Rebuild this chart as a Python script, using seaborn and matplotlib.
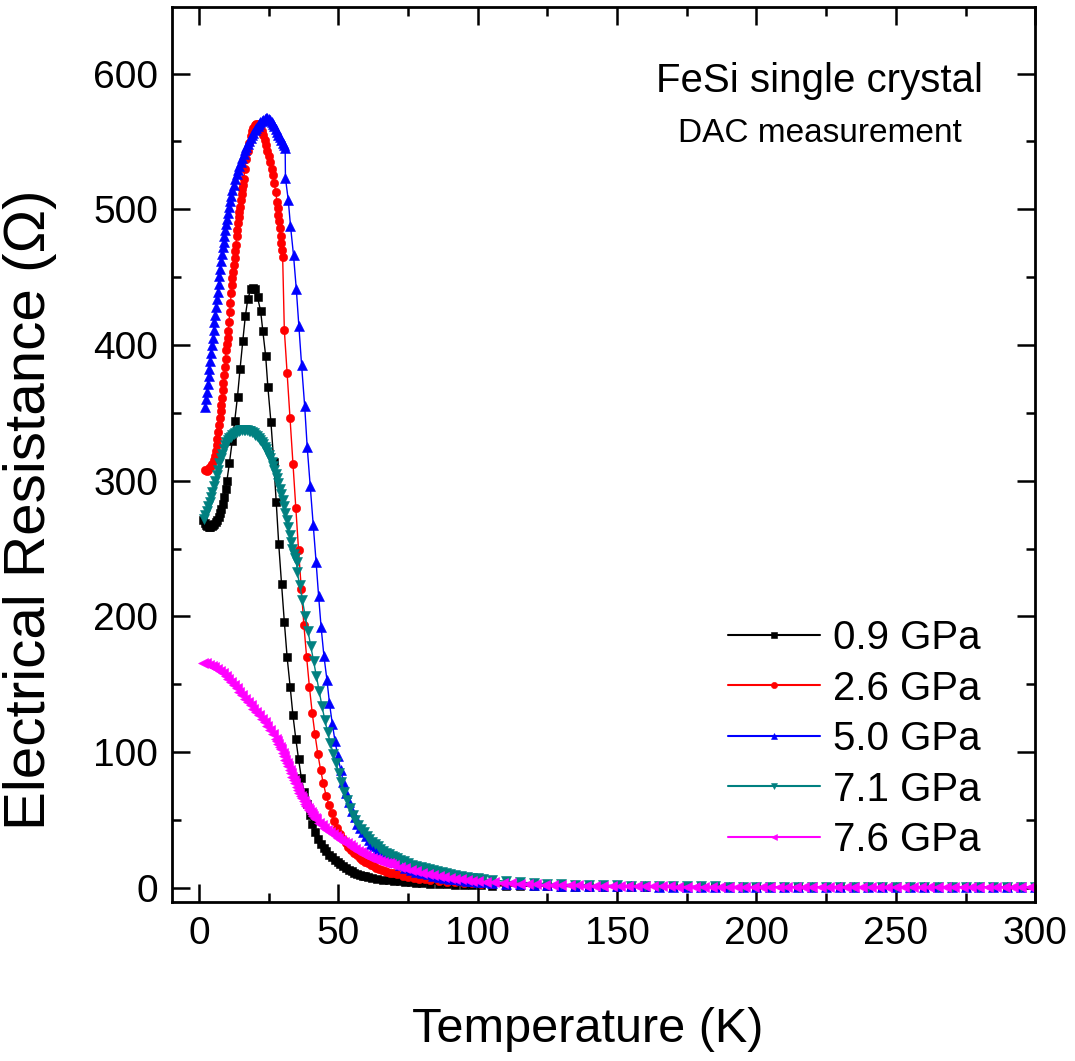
import matplotlib
matplotlib.use("Agg")
import matplotlib.pyplot as plt
import pandas as pd
import seaborn as sns
from matplotlib.ticker import MultipleLocator

# ---------------------------------------------------------------
# R(T) of an FeSi single crystal in a diamond anvil cell.
# Each series: list of (temperature in K, resistance in Ohm).
# ---------------------------------------------------------------
P_LABELS = ["0.9 GPa", "2.6 GPa", "5.0 GPa", "7.1 GPa", "7.6 GPa"]

P09_PTS = [
    (1.5, 271), (2.0, 268.5), (2.5, 267), (3.0, 266.5), (3.5, 266), (4.0, 266),
    (4.5, 266.5), (5.0, 267), (5.5, 268), (6.0, 269.5), (6.5, 271), (7.0, 273),
    (7.5, 276), (8.0, 279), (8.5, 283), (9.0, 288), (9.5, 294), (10.0, 300),
    (10.9, 313), (11.9, 329), (12.8, 344), (13.8, 362), (14.7, 382), (15.7, 403),
    (16.6, 421), (17.5, 434), (18.6, 441), (19.3, 442), (20.2, 441), (21.0, 435),
    (22.1, 425), (22.9, 410), (23.9, 392), (24.7, 369), (25.8, 343), (26.8, 314),
    (27.7, 284), (28.6, 253), (29.6, 224), (30.6, 196), (31.6, 170), (32.7, 148),
    (33.7, 127), (34.7, 110), (35.7, 95), (36.7, 81), (37.7, 71), (38.7, 62),
    (39.7, 54), (40.7, 47), (41.7, 41), (42.7, 36), (43.7, 32.5), (44.7, 29.5),
    (45.7, 27), (46.7, 24.5), (47.7, 22.5), (48.7, 20.5), (49.7, 19), (50.7, 17.5),
    (51.7, 16), (52.7, 14.5), (53.7, 13.3), (54.7, 12.2), (55.7, 11.3), (56.7, 10.5),
    (57.7, 9.7), (58.7, 9.0), (59.7, 8.5), (60.7, 8.0), (62, 7.4), (64, 6.7),
    (66, 6.1), (68, 5.6), (70, 5.1), (72, 4.7), (74, 4.3), (76, 4.0), (78, 3.7),
    (80, 3.4), (83, 3.1), (86, 2.8), (89, 2.6), (92, 2.4), (95, 2.2), (98, 2.0),
    (101, 1.8),
]

P26_PTS = [
    (2.2, 308), (2.7, 307.5), (3.2, 308), (3.7, 309), (4.2, 310.5), (4.7, 312),
    (5.2, 315), (5.6, 318), (6.0, 322), (6.3, 326), (6.6, 331), (6.9, 336),
    (7.2, 341), (7.5, 346), (7.75, 351), (8.0, 356), (8.25, 361), (8.5, 367),
    (8.75, 372), (9.0, 378), (9.25, 384), (9.5, 390), (9.75, 396), (10.0, 401),
    (10.25, 405), (10.5, 410), (10.75, 417), (11.0, 424), (11.25, 431), (11.5, 438),
    (11.75, 444), (12.0, 449), (12.25, 454), (12.5, 459), (12.75, 464), (13.0, 469),
    (13.25, 474), (13.5, 480), (13.75, 485), (14.0, 490), (14.25, 494), (14.5, 498),
    (14.75, 502), (15.0, 507), (15.25, 511), (15.5, 515), (15.75, 518), (16.0, 522),
    (16.5, 530), (17.0, 537), (17.5, 543), (18.0, 549), (18.5, 554), (19.0, 558),
    (19.5, 560), (20.0, 562), (20.5, 562.5), (21.0, 562.5), (21.5, 561.5), (22.0, 560),
    (22.5, 558), (23.0, 555), (23.5, 551), (24.0, 547), (24.5, 543), (25.0, 539),
    (25.5, 535), (26.0, 530), (26.5, 525), (27.0, 519), (27.5, 513), (28.0, 505),
    (28.25, 501), (28.5, 496), (28.75, 491), (29.0, 486), (29.25, 480), (29.5, 475),
    (29.75, 470), (30.0, 465),
    (30.6, 411), (31.6, 379), (32.6, 346), (33.7, 312), (34.7, 280), (35.7, 249),
    (36.7, 220), (37.6, 194), (38.6, 170), (39.6, 148), (40.6, 129), (41.6, 113),
    (42.6, 99), (43.6, 87), (44.6, 77), (45.6, 68), (46.6, 61), (47.6, 55),
    (48.6, 49), (49.6, 44), (50.6, 40), (51.6, 36), (52.6, 33), (53.6, 30),
    (54.6, 28), (55.6, 26), (56.6, 24), (57.6, 22), (58.6, 20.5), (59.6, 19),
    (60.6, 18), (61.6, 17), (62.6, 16), (63.6, 15), (64.6, 14), (65.6, 13.2),
    (66.6, 12.5), (67.6, 11.8), (68.6, 11.2), (69.6, 10.6), (71, 9.9), (73, 9.0),
    (75, 8.2), (77, 7.5), (79, 6.9), (81, 6.3), (83, 5.8), (86, 5.2), (89, 4.6),
    (92, 4.1), (95, 3.7), (98, 3.3), (101, 3.0),
]

P50_PTS = [
    (2.2, 354), (2.5, 360), (2.8, 365), (3.1, 371), (3.4, 377), (3.7, 382),
    (4.0, 388), (4.3, 394), (4.6, 400), (4.9, 405), (5.2, 411), (5.5, 417),
    (5.8, 422), (6.1, 428), (6.4, 434), (6.7, 439), (7.0, 445), (7.3, 451),
    (7.6, 456), (7.9, 462), (8.2, 467), (8.5, 472), (8.8, 476), (9.1, 480),
    (9.4, 485), (9.7, 489), (10.0, 493), (10.4, 497), (10.8, 502), (11.2, 506),
    (11.6, 510), (12.0, 514), (12.5, 518), (13.0, 522), (13.5, 526), (14.0, 529),
    (14.5, 532), (15.0, 535), (15.5, 538), (16.0, 541), (16.5, 543.5), (17.0, 546),
    (17.5, 548), (18.0, 550), (18.5, 552.5), (19.0, 554.5), (19.5, 556.5),
    (20.0, 558.5), (20.5, 560), (21.0, 561.5), (21.5, 563), (22.0, 564), (22.5, 565),
    (23.0, 566), (23.5, 566.5), (24.0, 567), (24.5, 567), (25.0, 566.5), (25.5, 565.5),
    (26.0, 564.5), (26.5, 563), (27.0, 561), (27.5, 559), (28.0, 557), (28.5, 555),
    (29.0, 553), (29.5, 551), (30.0, 549), (30.5, 547), (30.9, 545),
    (31.0, 523), (32.0, 507), (32.8, 488), (33.9, 466), (34.9, 441), (35.8, 414),
    (36.8, 385), (37.9, 355), (38.8, 325), (39.9, 296), (41.0, 267), (42.0, 240),
    (42.9, 215), (43.8, 192), (44.8, 171), (45.9, 153), (46.8, 136), (47.8, 121),
    (48.8, 108), (49.8, 97), (50.8, 87), (51.8, 78), (52.8, 70), (53.8, 63),
    (54.8, 57), (55.8, 52), (56.8, 47), (57.8, 44), (58.8, 41), (59.8, 38),
    (60.8, 35), (61.8, 32.5), (62.8, 30.5), (63.8, 28.5), (64.8, 26.5), (65.8, 25),
    (67, 23), (68, 21.5), (69, 20), (70, 19), (72, 17), (74, 15), (76, 13.2),
    (78, 12), (80, 10.9), (82, 9.9), (84, 9.0), (86, 8.2), (88, 7.5), (90, 6.8),
    (92, 6.2), (94, 5.6), (96, 5.1), (98, 4.7), (100, 4.3), (102, 4.0),
]

P71_PTS = [
    (1.8, 272), (2.3, 275), (2.8, 278), (3.3, 281), (3.8, 284), (4.3, 288),
    (4.8, 292), (5.3, 296), (5.8, 300), (6.3, 304), (6.8, 308), (7.3, 313),
    (7.8, 317), (8.3, 320), (8.8, 323), (9.3, 326), (9.8, 328.5), (10.3, 330),
    (10.8, 331.5), (11.3, 332.5), (11.8, 333.5), (12.4, 334.5), (13.0, 335.3),
    (13.6, 336), (14.2, 336.5), (14.8, 337), (15.4, 337), (16.0, 337.3),
    (16.6, 337.3), (17.2, 337), (17.8, 336.7), (18.4, 336.3), (19.0, 335.7),
    (19.6, 335), (20.2, 334), (20.8, 333), (21.4, 331.5), (22.0, 330), (22.5, 328.5),
    (23.0, 327), (23.5, 325), (24.0, 323), (24.5, 321), (25.0, 319), (25.5, 316.5),
    (26.0, 314), (26.5, 311), (27.0, 308), (27.5, 305), (28.0, 302), (28.5, 298),
    (29.0, 294), (29.5, 290), (30.0, 286), (30.5, 281), (31.0, 276), (31.5, 271),
    (32.0, 266), (32.5, 260), (33.0, 255), (33.5, 250), (34.0, 246), (34.5, 243),
    (35.0, 240),
    (35.2, 233), (36.1, 223), (37.1, 212), (38.1, 200), (39.1, 189), (40.1, 178),
    (41.1, 167), (42.1, 156), (43.1, 145), (44.1, 134), (45.1, 124), (46.1, 115),
    (47.1, 107), (48.1, 99), (49.1, 92), (50.1, 85), (51.1, 78), (52.1, 71),
    (53.1, 65), (54.1, 59), (55.1, 54), (56.1, 50), (57.1, 46.5), (58.1, 43.5),
    (59.1, 41), (60.1, 38.5), (61.1, 36), (62.1, 34), (63.1, 32), (64.1, 30.5),
    (65.1, 29), (66.1, 27.5), (67.1, 26), (68.1, 25), (69.1, 23.8), (70.1, 22.7),
    (71.1, 21.7), (72.1, 20.7), (73.5, 19.5), (75, 18.3), (76.5, 17.2), (78, 16.2),
    (79.5, 15.3), (81, 14.4), (82.5, 13.6), (84, 12.8), (85.5, 12.1), (87, 11.4),
    (88.5, 10.8), (90, 10.2), (92, 9.5), (94, 8.8), (96, 8.2), (98, 7.6),
    (100, 7.1), (102, 6.6),
]

P76_PTS = [
    (1.5, 166), (2.5, 165.5), (3.5, 164.5), (4.5, 163.5), (5.5, 162.5), (6.5, 161),
    (7.5, 159.5), (8.5, 158), (9.5, 156), (10.5, 154), (11.5, 152), (12.5, 149.5),
    (13.5, 147), (14.5, 144.5), (15.5, 142), (16.5, 139.5), (17.5, 137), (18.5, 134.5),
    (19.5, 132), (20.5, 129.5), (21.5, 127), (22.5, 124.5), (23.5, 122), (24.5, 119.5),
    (25.5, 116.5), (26.5, 113.5), (27.5, 110), (28.0, 108), (28.5, 106), (29.0, 104),
    (29.5, 102), (30.0, 99.5), (30.5, 97), (31.0, 94.5), (31.5, 92), (32.0, 89.5),
    (32.5, 87), (33.0, 84.5), (33.5, 82), (34.0, 79.5), (34.5, 77), (35.0, 74.5),
    (35.5, 72), (36.0, 70), (36.5, 68), (37.0, 66), (37.5, 64), (38.0, 62),
    (38.5, 60.5), (39.0, 59), (39.5, 57.5), (40.0, 56), (40.5, 54.5), (41.0, 53),
    (41.5, 51.5), (42.0, 50.5), (43, 48), (44, 46), (45, 44), (46, 42.5), (47, 41),
    (48, 39.5), (49, 38), (50, 36.5), (51, 35.2), (52, 34), (53, 32.8), (54, 31.6),
    (55, 30.3), (56, 28.7), (57, 27.5), (58, 26.3), (59, 25.1), (60, 24),
    (61, 23.1), (62, 22.3), (63, 21.5), (64, 20.8), (65, 20), (66, 19.3), (67, 18.6),
    (68, 18), (69, 17.3), (70, 16.7), (72, 15.5), (74, 14.3), (76, 13.2), (78, 12.2),
    (80, 11.2), (82, 10.3), (84, 9.5), (86, 8.8), (88, 8.1), (90, 7.5), (92, 6.9),
    (94, 6.3), (96, 5.8), (98, 5.4), (100, 5.0),
]

# high-temperature tails (measured every 5 K above 105 K)
TAIL_T = [105, 110, 115, 120, 125, 130, 135, 140, 145, 150, 155, 160, 165, 170,
          175, 180, 185, 190, 195, 200, 205, 210, 215, 220, 225, 230, 235, 240,
          245, 250, 255, 260, 265, 270, 275, 280, 285, 290, 295, 300]
TAIL_P09 = [1.6, 1.45, 1.3, 1.2, 1.1, 1.0, 0.95, 0.9, 0.85, 0.8, 0.75, 0.7, 0.68,
            0.65, 0.62, 0.6, 0.57, 0.55, 0.53, 0.5, 0.49, 0.47, 0.46, 0.45, 0.44,
            0.43, 0.42, 0.41, 0.4, 0.39, 0.38, 0.37, 0.36, 0.35, 0.35, 0.34, 0.33,
            0.33, 0.32, 0.32]
TAIL_P26 = [2.7, 2.4, 2.1, 1.9, 1.7, 1.55, 1.4, 1.3, 1.2, 1.1, 1.0, 0.95, 0.9,
            0.85, 0.8, 0.76, 0.72, 0.69, 0.66, 0.63, 0.6, 0.58, 0.56, 0.54, 0.52,
            0.5, 0.49, 0.48, 0.47, 0.46, 0.45, 0.44, 0.43, 0.42, 0.41, 0.4, 0.4,
            0.39, 0.39, 0.38]
TAIL_P50 = [3.6, 3.0, 2.5, 2.1, 1.85, 1.65, 1.5, 1.4, 1.3, 1.2, 1.12, 1.05, 1.0,
            0.95, 0.9, 0.85, 0.8, 0.76, 0.72, 0.69, 0.66, 0.63, 0.6, 0.58, 0.56,
            0.54, 0.52, 0.5, 0.49, 0.48, 0.47, 0.46, 0.45, 0.44, 0.43, 0.42, 0.41,
            0.4, 0.4, 0.39]
TAIL_P71 = [5.8, 4.9, 4.2, 3.6, 3.1, 2.7, 2.4, 2.15, 1.95, 1.8, 1.65, 1.5, 1.4,
            1.3, 1.2, 1.1, 1.05, 1.0, 0.95, 0.9, 0.85, 0.8, 0.77, 0.74, 0.71,
            0.68, 0.65, 0.62, 0.6, 0.58, 0.56, 0.54, 0.52, 0.5, 0.49, 0.48, 0.47,
            0.46, 0.45, 0.45]
# the 7.6 GPa run was logged every 3 K above 100 K
TAIL_T76 = [103, 106, 109, 112, 115, 118, 121, 124, 127, 130, 133, 136, 139, 142,
            145, 148, 151, 154, 157, 160, 163, 166, 169, 172, 175, 178, 181, 184,
            187, 190, 193, 196, 199, 202, 205, 208, 211, 214, 217, 220, 223, 226,
            229, 232, 235, 238, 241, 244, 247, 250, 253, 256, 259, 262, 265, 268,
            271, 274, 277, 280, 283, 286, 289, 292, 295, 298, 300]
TAIL_P76 = [4.6, 4.2, 3.8, 3.5, 3.2, 2.9, 2.6, 2.4, 2.2, 2.0, 1.9, 1.8, 1.7, 1.6,
            1.5, 1.4, 1.35, 1.3, 1.25, 1.2, 1.15, 1.1, 1.05, 1.0, 1.0, 0.95, 0.9,
            0.9, 0.85, 0.85, 0.8, 0.8, 0.75, 0.75, 0.7, 0.7, 0.7, 0.65, 0.65, 0.65,
            0.6, 0.6, 0.6, 0.6, 0.55, 0.55, 0.55, 0.55, 0.5, 0.5, 0.5, 0.5, 0.5,
            0.5, 0.45, 0.45, 0.45, 0.45, 0.45, 0.45, 0.4, 0.4, 0.4, 0.4, 0.4, 0.4,
            0.4]

X_TICKS = [0, 50, 100, 150, 200, 250, 300]
Y_TICKS = [0, 100, 200, 300, 400, 500, 600]

COLORS = ["#000000", "#FF0000", "#0000FF", "#008080", "#FF00FF"]
MARKERS = ["s", "o", "^", "v", "<"]
MSIZES = [5.4, 6.0, 7.4, 7.4, 7.8]


def frame(points, tail_t, tail_r, label):
    t = [p[0] for p in points] + list(tail_t)
    r = [p[1] for p in points] + list(tail_r)
    return pd.DataFrame({"T": t, "R": r, "pressure": label})


frames = [
    frame(P09_PTS, TAIL_T, TAIL_P09, P_LABELS[0]),
    frame(P26_PTS, TAIL_T, TAIL_P26, P_LABELS[1]),
    frame(P50_PTS, TAIL_T, TAIL_P50, P_LABELS[2]),
    frame(P71_PTS, TAIL_T, TAIL_P71, P_LABELS[3]),
    frame(P76_PTS, TAIL_T76, TAIL_P76, P_LABELS[4]),
]

sns.set_theme(style="ticks")
plt.rcParams["font.family"] = ["Liberation Sans", "DejaVu Sans"]
plt.rcParams.update({
    "axes.linewidth": 2.0,
    "text.color": "black",
    "axes.labelcolor": "black",
    "xtick.color": "black",
    "ytick.color": "black",
    "axes.edgecolor": "black",
})

fig = plt.figure(figsize=(10.75, 10.61), dpi=100)
ax = fig.add_axes([0.160, 0.150, 0.803, 0.8434])

for df, col, mk, ms in zip(frames, COLORS, MARKERS, MSIZES):
    sns.lineplot(data=df, x="T", y="R", ax=ax, color=col, marker=mk,
                 markersize=ms, markeredgecolor=col, markeredgewidth=0.4,
                 linewidth=1.0, sort=False, estimator=None,
                 label=df["pressure"].iloc[0])

ax.set_xlim(-9.7, 300)
ax.set_ylim(-10.3, 649)
ax.set_xticks(X_TICKS)
ax.set_yticks(Y_TICKS)
ax.xaxis.set_minor_locator(MultipleLocator(25))
ax.yaxis.set_minor_locator(MultipleLocator(50))
ax.tick_params(which="both", direction="in", top=True, right=True,
               width=1.8, colors="black")
ax.tick_params(which="major", length=13, labelsize=28, pad=10)
ax.tick_params(which="minor", length=6.5)
for s in ax.spines.values():
    s.set_linewidth(2.0)
    s.set_color("black")

ax.set_xlabel("Temperature (K)", fontsize=35)
ax.set_ylabel("Electrical Resistance (\u03a9)", fontsize=42)
ax.xaxis.set_label_coords(0.481, -0.143)
ax.xaxis.label.set_va("center")
ax.yaxis.set_label_coords(-0.165, 0.438)
ax.yaxis.label.set_va("center")

ax.text(0.750, 0.905, "FeSi single crystal", transform=ax.transAxes,
        ha="center", va="baseline", fontsize=29)
ax.text(0.750, 0.849, "DAC measurement", transform=ax.transAxes,
        ha="center", va="baseline", fontsize=24)

leg = ax.legend(loc="upper left", bbox_to_anchor=(0.6443, 0.316),
                frameon=False, fontsize=29, handlelength=2.27,
                handletextpad=0.33, labelspacing=0.31, borderpad=0,
                borderaxespad=0)
for h in leg.legend_handles:
    h.set_linewidth(1.5)
    h.set_markersize(4.5)

fig.savefig("out.png", dpi=100)
